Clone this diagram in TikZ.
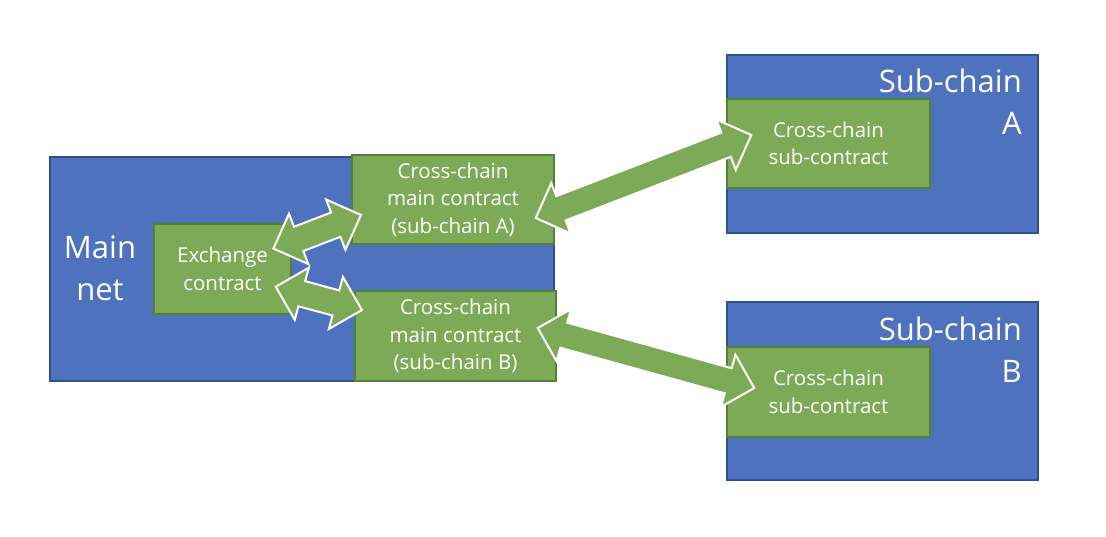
\documentclass[tikz,border=0pt]{standalone}
\usepackage{fontspec}
\setmainfont{Open Sans}
\usetikzlibrary{calc}
\definecolor{boxblue}{HTML}{4F72BF}
\definecolor{blueline}{HTML}{2F528F}
\definecolor{boxgreen}{HTML}{7DAA56}
\definecolor{greenline}{HTML}{548235}
\tikzset{
  bluebox/.style={draw=blueline, fill=boxblue, line width=1.5pt, inner sep=0pt},
  greenbox/.style={draw=greenline, fill=boxgreen, line width=1.5pt, inner sep=0pt,
    text=white, align=center, font=\fontsize{20.5}{27.5}\selectfont},
  biglabel/.style={text=white, inner sep=0pt, font=\fontsize{31}{42}\selectfont},
  fatarrowstyle/.style={fill=boxgreen, draw=white, line width=2pt, line join=miter}
}
\newcommand\fatarrow[2]{%
  \coordinate (fa1) at ($(#1)!27pt!(#2)$);
  \coordinate (fa2) at ($(#2)!27pt!(#1)$);
  \draw[fatarrowstyle] (#1) -- ($(fa1)!27pt!90:(#2)$) -- ($(fa1)!13pt!90:(#2)$)
    -- ($(fa2)!13pt!-90:(#1)$) -- ($(fa2)!27pt!-90:(#1)$) -- (#2)
    -- ($(fa2)!27pt!90:(#1)$) -- ($(fa2)!13pt!90:(#1)$)
    -- ($(fa1)!13pt!-90:(#2)$) -- ($(fa1)!27pt!-90:(#2)$) -- cycle;}
\begin{document}
\begin{tikzpicture}[x=1pt, y=-1pt]
\useasboundingbox (0,0) rectangle (1106,536);
\fill[white] (0,0) rectangle (1106,536);
% main net
\node[bluebox, minimum width=504pt, minimum height=224pt] (main) at (302,269) {};
\node[biglabel, anchor=north, align=center] (mainlbl) at (100,236) {Main\\net};
\node[greenbox, minimum width=202pt, minimum height=89pt] (gA) at (453,199.5)
  {Cross-chain\\main contract\\(sub-chain A)};
\node[greenbox, minimum width=201pt, minimum height=90pt] (gB) at (455.5,336)
  {Cross-chain\\main contract\\(sub-chain B)};
\node[greenbox, minimum width=137pt, minimum height=90pt] (ex) at (222.5,269)
  {Exchange\\contract};
% sub-chain A
\node[bluebox, minimum width=311pt, minimum height=178pt] (subA) at (882.5,144) {};
\node[biglabel, anchor=north east, align=right] (subAlbl) at (1022,69) {Sub-chain\\A};
\node[greenbox, minimum width=203pt, minimum height=89pt] (sA) at (828.5,143.5)
  {Cross-chain\\sub-contract};
% sub-chain B
\node[bluebox, minimum width=311pt, minimum height=178pt] (subB) at (882.5,391) {};
\node[biglabel, anchor=north east, align=right] (subBlbl) at (1022,317) {Sub-chain\\B};
\node[greenbox, minimum width=203pt, minimum height=90pt] (sB) at (828.5,392)
  {Cross-chain\\sub-contract};
% arrow end points
\coordinate (ul1) at ($(ex.north east)+(-18.3,25.3)$);
\coordinate (ul2) at ($(gA.west)+(9.7,15.5)$);
\coordinate (ll1) at ($(ex.east)+(-16,17.7)$);
\coordinate (ll2) at ($(gB.west)+(7.7,-26)$);
\coordinate (ur1) at ($(gA.east)+(-19,18.5)$);
\coordinate (ur2) at ($(sA.west)+(25,-8.5)$);
\coordinate (lr1) at ($(gB.east)+(-19,-8)$);
\coordinate (lr2) at ($(sB.west)+(28,-4)$);
\fatarrow{ul1}{ul2}
\fatarrow{ll1}{ll2}
\fatarrow{ur1}{ur2}
\fatarrow{lr1}{lr2}
\end{tikzpicture}
\end{document}
